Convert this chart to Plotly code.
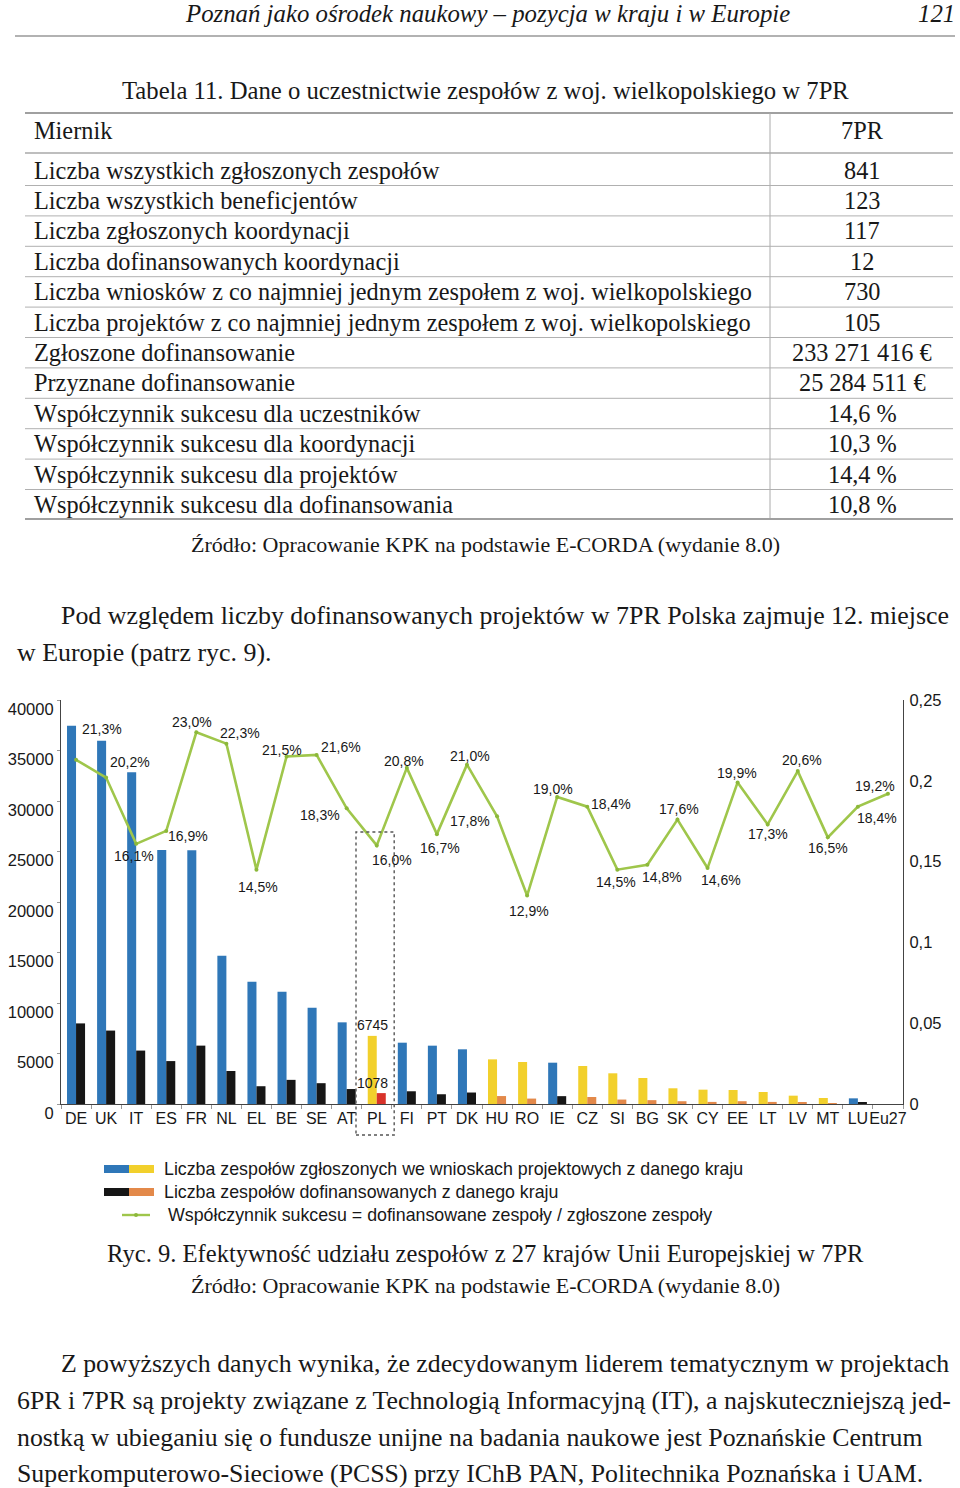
import plotly.graph_objects as go

W, H = 960, 1488

# ---------------- chart data ----------------
countries = ["DE", "UK", "IT", "ES", "FR", "NL", "EL", "BE", "SE", "AT", "PL", "FI", "PT", "DK",
             "HU", "RO", "IE", "CZ", "SI", "BG", "SK", "CY", "EE", "LT", "LV", "MT", "LU", "Eu27"]
submitted = [37450, 35970, 32840, 25150, 25120, 14680, 12110, 11120, 9535, 8085, 6745, 6070, 5775, 5415,
             4420, 4160, 4090, 3760, 3040, 2575, 1555, 1420, 1385, 1190, 825, 595, 560, None]
funded = [7980, 7270, 5290, 4250, 5780, 3270, 1760, 2390, 2060, 1480, 1078, 1260, 965, 1137,
          787, 537, 777, 692, 441, 381, 274, 207, 276, 206, 170, 98, 103, None]
success = [0.213, 0.202, 0.161, 0.169, 0.230, 0.223, 0.145, 0.215, 0.216, 0.183, 0.160, 0.208, 0.167, 0.210,
           0.178, 0.129, 0.190, 0.184, 0.145, 0.148, 0.176, 0.146, 0.199, 0.173, 0.206, 0.165, 0.184, 0.192]
new_members = ["PL", "HU", "RO", "CZ", "SI", "BG", "SK", "CY", "EE", "LT", "LV", "MT"]
highlight = "PL"
left_ticks = [0, 5000, 10000, 15000, 20000, 25000, 30000, 35000, 40000]
right_ticks = [0, 0.05, 0.1, 0.15, 0.2, 0.25]
right_tick_text = ["0", "0,05", "0,1", "0,15", "0,2", "0,25"]

# ---------------- table data ----------------
table_header = ["Miernik", "7PR"]
table_labels = [
    "Liczba wszystkich zgłoszonych zespołów",
    "Liczba wszystkich beneficjentów",
    "Liczba zgłoszonych koordynacji",
    "Liczba dofinansowanych koordynacji",
    "Liczba wniosków z co najmniej jednym zespołem z woj. wielkopolskiego",
    "Liczba projektów z co najmniej jednym zespołem z woj. wielkopolskiego",
    "Zgłoszone dofinansowanie",
    "Przyznane dofinansowanie",
    "Współczynnik sukcesu dla uczestników",
    "Współczynnik sukcesu dla koordynacji",
    "Współczynnik sukcesu dla projektów",
    "Współczynnik sukcesu dla dofinansowania",
]
table_values = ["841", "123", "117", "12", "730", "105", "233 271 416 €", "25 284 511 €",
                "14,6 %", "10,3 %", "14,4 %", "10,8 %"]

# ---------------- styles ----------------
BLUE, YELLOW, BLACK, ORANGE, RED = "#2f77b8", "#f2d02c", "#161616", "#e3894a", "#d8322a"
GREEN = "#9fc64b"
SERIF = "Liberation Serif"
SANS = "Liberation Sans"
TXT = "#181818"

sub_colors = [YELLOW if c in new_members else BLUE for c in countries]
fun_colors = [RED if c == highlight else (ORANGE if c in new_members else BLACK) for c in countries]

# label offsets (px, dx right, dy down) for the success-rate labels
label_off = [(26, -31), (24, -16), (-2, 12), (22, 5), (-4, -10), (14, -11), (2, 17), (-5, -7),
             (24, -8), (-27, 7), (15, 15), (-3, -7), (3, 14), (3, -9), (-27, 5), (2, 15), (-4, -8),
             (24, -3), (-1, 12), (15, 12), (2, -11), (13, 12), (-1, -9), (0, 10), (4, -11), (0, 11),
             (19, 11), (-13, -8)]

def px(x):
    return x / W

def py(y):
    return 1 - y / H

# plot area in page pixels
PX0, PX1, PY0, PY1 = 61, 903, 700, 1104

fig = go.Figure()
fig.add_trace(go.Bar(x=countries, y=submitted, marker=dict(color=sub_colors, line=dict(width=0)),
                     name="Liczba zespołów zgłoszonych", hoverinfo="x+y"))
fig.add_trace(go.Bar(x=countries, y=funded, marker=dict(color=fun_colors, line=dict(width=0)),
                     name="Liczba zespołów dofinansowanych", hoverinfo="x+y"))
fig.add_trace(go.Scatter(x=countries, y=success, yaxis="y2", mode="lines+markers",
                         line=dict(color=GREEN, width=2.6),
                         marker=dict(size=4, color="#8cb83a"), name="Współczynnik sukcesu"))

ann = []
shapes = []

# success-rate labels
for c, v, (dx, dy) in zip(countries, success, label_off):
    ann.append(dict(x=c, y=v, xref="x", yref="y2", text=f"{v*100:.1f}%".replace(".", ","),
                    showarrow=False, xshift=dx, yshift=-dy,
                    font=dict(family=SANS, size=14, color=TXT)))

# PL data labels
ip = countries.index(highlight)
ann.append(dict(x=highlight, y=submitted[ip], xref="x", yref="y", text=str(submitted[ip]),
                showarrow=False, xshift=-4, yshift=11, font=dict(family=SANS, size=14, color=TXT)))
ann.append(dict(x=highlight, y=funded[ip], xref="x", yref="y", text=str(funded[ip]),
                showarrow=False, xshift=-4, yshift=10, font=dict(family=SANS, size=14, color=TXT)))

# dashed box around PL
shapes.append(dict(type="rect", xref="x", yref="paper", x0=ip - 0.69, x1=ip + 0.58,
                   y0=py(1135), y1=py(832), line=dict(color="#555", width=1.4, dash="dot")))

# ---------------- page text helpers ----------------
def text(x, y, s, size, family=SERIF, anchor="left", italic=False, color=TXT):
    ann.append(dict(x=px(x), y=py(y), xref="paper", yref="paper", text=s, showarrow=False,
                    xanchor=anchor, yanchor="middle",
                    font=dict(family=family, size=size, color=color,
                              style="italic" if italic else "normal")))

def hline(x0, x1, y, color="#999", width=1):
    shapes.append(dict(type="line", xref="paper", yref="paper", x0=px(x0), x1=px(x1),
                       y0=py(y), y1=py(y), line=dict(color=color, width=width)))

def vline(x, y0, y1, color="#aaa", width=1):
    shapes.append(dict(type="line", xref="paper", yref="paper", x0=px(x), x1=px(x),
                       y0=py(y0), y1=py(y1), line=dict(color=color, width=width)))

def rect(x0, x1, y0, y1, color):
    shapes.append(dict(type="rect", xref="paper", yref="paper", x0=px(x0), x1=px(x1),
                       y0=py(y1), y1=py(y0), fillcolor=color, line=dict(width=0)))

# header
text(487, 14, "Poznań jako ośrodek naukowy – pozycja w kraju i w Europie", 24.8, anchor="center", italic=True)
text(957, 14, "121", 24.8, anchor="right", italic=True)
hline(15, 955, 36, "#999", 1.5)

# table
text(485, 90, "Tabela 11. Dane o uczestnictwie zespołów z woj. wielkopolskiego w 7PR", 24.7, anchor="center")
hline(25, 953, 113, "#a0a0a0", 2.2)
hline(25, 953, 153, "#a8a8a8", 1.6)
vline(770, 113, 519)
text(32, 130, table_header[0], 24.3)
text(862, 130, table_header[1], 24.3, anchor="center")
row_y0 = 170
row_h = 30.4
for i, (lab, val) in enumerate(zip(table_labels, table_values)):
    yc = row_y0 + i * row_h
    text(32, yc, lab, 24.3)
    text(862, yc, val, 24.3, anchor="center")
    if i < len(table_labels) - 1:
        hline(25, 953, yc + 15.5, "#b0b0b0", 1)
hline(25, 953, 519, "#a0a0a0", 2.2)
text(485, 544, "Źródło: Opracowanie KPK na podstawie E-CORDA (wydanie 8.0)", 22, anchor="center")

# paragraph
text(59, 615, "Pod względem liczby dofinansowanych projektów w 7PR Polska zajmuje 12. miejsce", 25.9)
text(15, 652, "w Europie (patrz ryc. 9).", 25.9)

# legend
rect(104, 129, 1165, 1173, BLUE)
rect(129, 154, 1165, 1173, YELLOW)
text(162, 1169, "Liczba zespołów zgłoszonych we wnioskach projektowych z danego kraju", 17.8, family=SANS)
rect(104, 129, 1188, 1196, BLACK)
rect(129, 154, 1188, 1196, ORANGE)
text(162, 1192, "Liczba zespołów dofinansowanych z danego kraju", 17.8, family=SANS)
hline(122, 150, 1215, GREEN, 2.4)
shapes.append(dict(type="circle", xref="paper", yref="paper", x0=px(134), x1=px(138),
                   y0=py(1217), y1=py(1213), fillcolor="#8cb83a", line=dict(width=0)))
text(166, 1215, "Współczynnik sukcesu = dofinansowane zespoły / zgłoszone zespoły", 17.8, family=SANS)

# caption
text(485, 1253, "Ryc. 9. Efektywność udziału zespołów z 27 krajów Unii Europejskiej w 7PR", 24.6, anchor="center")
text(485, 1285, "Źródło: Opracowanie KPK na podstawie E-CORDA (wydanie 8.0)", 22, anchor="center")

# final paragraph
para = [
    (59, 1363, "Z powyższych danych wynika, że zdecydowanym liderem tematycznym w projektach"),
    (15, 1400, "6PR i 7PR są projekty związane z Technologią Informacyjną (IT), a najskuteczniejszą jed-"),
    (15, 1437, "nostką w ubieganiu się o fundusze unijne na badania naukowe jest Poznańskie Centrum"),
    (15, 1473, "Superkomputerowo-Sieciowe (PCSS) przy IChB PAN, Politechnika Poznańska i UAM."),
]
for x, y, s in para:
    text(x, y, s, 25.8)

fig.update_layout(
    width=W, height=H, margin=dict(l=0, r=0, t=0, b=0, autoexpand=False),
    paper_bgcolor="white", plot_bgcolor="white",
    barmode="group", bargap=0.4, bargroupgap=0,
    showlegend=False,
    font=dict(family=SANS, color=TXT),
    xaxis=dict(domain=[px(PX0), px(PX1)], type="category", range=[-0.5, len(countries) - 0.5],
               showline=True, linecolor="#444",
               linewidth=1.2, ticks="outside", tickson="boundaries", ticklen=4, tickcolor="#999",
               tickangle=0, automargin=False,
               tickfont=dict(family=SANS, size=16, color=TXT), showgrid=False, fixedrange=True),
    yaxis=dict(domain=[py(PY1), py(PY0)], range=[0, 40000], tickvals=left_ticks, tickformat="d",
               showline=True, linecolor="#444", linewidth=1.2, showgrid=False, zeroline=False,
               ticks="outside", ticklen=3, tickcolor="#999", ticklabelshift=9, automargin=False,
               tickfont=dict(family=SANS, size=16.5, color=TXT), fixedrange=True),
    yaxis2=dict(overlaying="y", side="right", anchor="x", range=[0, 0.25], tickvals=right_ticks,
                ticktext=right_tick_text, showline=True, linecolor="#444", linewidth=1.2,
                showgrid=False, zeroline=False, ticks="", ticklabelstandoff=2, automargin=False,
                tickfont=dict(family=SANS, size=16.5, color=TXT), fixedrange=True),
    annotations=ann, shapes=shapes,
)

fig.write_html("out.html", config={"displayModeBar": False},
               post_script="document.body.style.margin='0';")
